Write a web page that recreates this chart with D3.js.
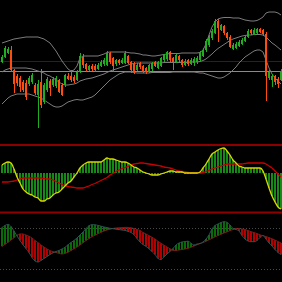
<!DOCTYPE html>
<html><head><meta charset="utf-8">
<script src="https://cdn.jsdelivr.net/npm/d3@7"></script>
<style>html,body{margin:0;padding:0;background:#000;overflow:hidden}</style>
</head><body>
<svg id="c" width="282" height="282"></svg>
<script>
// ---- price candles ----
const open=[78,83,87,90,70,64,62,58,57,56, 58,55,45,58,38,50,59,55,54,60, 55,55,64,64,63,60,68,83,76,70, 74,74,71,74,76,75,87,82,76,80, 77,77,84,78,76,70,77,74,72,68, 71,78,72,74,80,81,88,82,78,84, 80,75,80,76,77,78,80,84,90,95, 102,107,119,110,114,107,103,91,92,94, 96,99,103,110,106,107,111,110,106,62, 60,64,61,60];
const close=[83,92,91,70,56,57,53,50,43,62, 65,47,56,35,55,61,52,61,62,48, 45,65,61,60,59,68,84,75,71,74, 71,70,75,78,80,87,78,74,80,77, 80,87,77,70,68,75,73,68,68,75, 77,74,78,82,85,88,80,78,85,80, 75,79,76,80,81,82,87,90,99,103, 109,119,112,115,107,102,93,95,96,98, 100,103,109,107,110,111,108,106,64,68, 64,58,56,69];
const high=[85,94,93,94,71,66,64,60,60,64, 67,57,60,71,57,63,61,63,64,61, 57,66,67,70,65,70,87,86,77,75, 76,76,77,80,82,89,88,83,81,81, 82,89,85,79,78,77,78,75,73,76, 78,79,79,83,86,89,89,83,86,85, 81,81,81,82,83,84,89,92,101,105, 111,121,121,116,115,108,105,97,98,100, 102,105,111,111,112,112,112,111,108,70, 66,65,63,71];
const low=[77,82,86,68,47,54,48,48,40,54, 56,45,12,32,36,48,44,53,52,47, 44,53,60,58,57,59,67,72,68,69, 69,68,70,73,74,74,76,68,74,75, 76,76,76,67,66,69,71,67,66,67, 69,73,71,73,78,79,78,70,77,78, 73,74,74,75,74,76,79,83,88,93, 100,106,98,109,105,100,92,90,91,93, 95,98,102,105,105,106,107,104,39,60, 53,55,52,59];
// ---- Bollinger bands ----
const bbUpper=[97,98,99,100,101,101.5,102,102.5,103,103, 103,103,103,102,101,99,97,93,89,84, 79,75,71,69,70,74,82,84,84,84, 84,84,84,85,86,87.5,88,88,88,88, 88,88,87.5,87,87,86.5,86,85,85,84.5, 84,84,84.5,85,85.5,86,86.5,86.5,86.5,86.5, 87,87,87,87,87,87,87.5,90,96,105, 113,118,121,122,122.5,122.5,122.5,122,122,122, 121,120,119.5,119,119,119.5,121,123,127,128, 128,128,127,125];
const bbMiddle=[68,70,71,72,72,72,72,72,72,71.5, 71,70,69,68,67,65,64,62,60,58, 56,55,55,55.5,56,57,59,60,61,61.5, 62,63,64,65,66,67.5,69,70,71,72, 73,74,75,76,76.5,77,77,77,77,77, 77,77,77,77,77.5,77.5,77.5,77.5,77.5,77.5, 77.5,77.5,77.5,78,78,78,78.5,79.5,81,83.5, 86,89,91.5,93.5,95.5,97.5,99.5,101,102,103, 104,104.5,105,105,105.5,105.5,105.5,105,103,100, 97,95,92.5,90];
const bbLower=[36,39,42,44,45,46,46,46,46,46, 45,44,43,42,40,38,36,34,33,33, 34,36,38,39,40,40.5,40,40,41,42, 43,45,48,51,54,57,60,62,64,66, 67,68,68,68,67.5,67,67,67,67,67, 67.5,67.5,67.5,67.5,67.5,67.5,67.5,68,68,68, 68,68,68,68,68,67.5,67,67,66,65, 64,63,62,62,63,65,67,70,73,77, 80,83,85,87,89,90,90,88,80,72, 66,62,59,56];
const priceLevels=[79,69];
// ---- MACD ----
const macd=[8,10,11,10,4,-4,-10,-16,-19,-21, -22,-24,-25,-28,-28,-26,-25,-22,-20,-19, -16,-13,-10,-8,-4,0,5,8,10,11, 11,11,11,11,13,15,14,14,13,12, 11,11,10,8,6,5,3,1,0,-1, -2,-2,-2,-1,0,1,2,2,1,1, 1,0,0,0,0,0,1,5,9,14, 19,21,23,24.5,25,22,18,13,10,7, 6,5,5,5,5,5,5,2,-6,-15, -23,-29,-34,-36];
const signal=[-9,-9,-9,-8.5,-8,-7,-6,-5,-5,-5, -5,-5,-5,-5,-5.5,-6,-6,-7,-8.5,-10, -11.5,-12.5,-13.5,-14,-14.5,-15,-15,-15,-14,-13, -11.5,-10.5,-9,-7.5,-6,-4.5,-2,-0.5,1.5,3, 4.5,5.5,6.5,8,9,9.5,10,10,9.5,9, 8.5,8,7.5,7,6,5.5,5,4,3,2, 1.5,1,0.5,0,0,0,0,0.5,1.5,2.5, 4,5,6,7,8,9,9,9,9,9, 9,9.5,10,10,10,10,10,10,9,7, 5,2,-1,-4];
// ---- lower oscillator ----
const fastLine=[20.5,22.5,23.7,21.5,17,12,7.5,3.2,-0.5,-4.5, -9.5,-13,-14,-12.5,-10.5,-8.5,-6.5,-4.8,-3.5,-2.5, -1,0.7,3.2,5.5,7.5,10,13,16,19.5,22.3, 23.3,23.2,22.6,21.8,21,20.4,19.7,19.3,18.8,18.4, 18,17.6,16.7,15.5,13.3,9.5,6,3.5,1.7,-0.8, -3.5,-6.5,-10.5,-11.5,-9,-6,-3.5,-0.5,3,5, 6,6.5,6.8,4.8,3,4,4.5,6,9,13, 19,22.5,24,25.5,26.3,25.7,23,19.5,18.5,17, 12.5,9,7,6.3,6.3,7.5,10.5,12.5,9,5, 2,-1.5,-4.5,-6.5];
const slowLine=[1.7,3.7,5.7,8,10.2,12.8,14,14,13,11.7, 10,7.5,5.3,3,1,-1,-2.7,-3.7,-4.5,-5.3, -6,-5.3,-4.2,-2.5,-0.8,1,3,5.2,7.5,9.5, 11.3,12.8,14.3,15.7,17,18,18.8,19.6,20,20.2, 20.4,20.6,20.6,20.2,19.5,18.5,17.5,15.5,14,12.3, 10.7,9,6.7,4.7,2.8,1,-0.8,-2.3,-2.5,-2, -1.5,-1,-0.3,0.8,2,3.2,4.4,5.5,6.8,8.2, 9.7,11.1,12.5,13.8,15,16.1,17.4,18.5,19.5,19.5, 19,18.5,17.4,16.3,15.4,14.4,13.1,12.3,11.4,10.4, 9.2,7.9,6.4,5];
const oscLevels=[20.5,-20.5];

const N=open.length;
const svg=d3.select("#c");
svg.append("rect").attr("width",282).attr("height",282).attr("fill","#000");
const x=d3.scaleLinear().domain([0,N-1]).range([2,281]);
const yP=d3.scaleLinear().domain([0,140]).range([140,0]);
const yM=d3.scaleLinear().domain([-40,30]).range([213,143]);
const yO=d3.scaleLinear().domain([-34,36]).range([282,212]);
const idx=d3.range(N);
const GREEN="#1fae1f", ORANGE="#ff4d0f";

// top panel
const priceG=svg.append("g");
priceG.selectAll("line.lv").data(priceLevels).join("line")
  .attr("x1",0).attr("x2",282).attr("y1",d=>Math.round(yP(d))+0.5).attr("y2",d=>Math.round(yP(d))+0.5)
  .attr("stroke",(d,i)=>i===0?"#7a0000":"#8a8a8a").attr("stroke-width",1);
const band=d3.line().x((d,i)=>x(i)).y(d=>yP(d));
[bbUpper,bbMiddle,bbLower].forEach(b=>{
  priceG.append("path").attr("d",band(b)).attr("fill","none").attr("stroke","#7c7c7c").attr("stroke-width",1);
});
const cg=priceG.append("g").attr("shape-rendering","crispEdges");
cg.selectAll("rect.w").data(idx).join("rect")
  .attr("x",i=>x(i)).attr("width",1)
  .attr("y",i=>yP(high[i])).attr("height",i=>yP(low[i])-yP(high[i]))
  .attr("fill",i=>close[i]>=open[i]?GREEN:ORANGE);
cg.selectAll("rect.b").data(idx).join("rect")
  .attr("x",i=>x(i)-1).attr("width",2)
  .attr("y",i=>yP(Math.max(open[i],close[i])))
  .attr("height",i=>Math.max(1,Math.abs(yP(open[i])-yP(close[i]))))
  .attr("fill",i=>close[i]>=open[i]?GREEN:ORANGE);

// MACD panel
const mg=svg.append("g");
mg.append("g").attr("shape-rendering","crispEdges").selectAll("rect").data(idx).join("rect")
  .attr("x",i=>x(i)-1).attr("width",2)
  .attr("y",i=>Math.min(yM(0),yM(macd[i]))).attr("height",i=>Math.max(0.5,Math.abs(yM(macd[i])-yM(0))))
  .attr("fill","#168a16");
const ml=d3.line().x((d,i)=>x(i)).y(d=>yM(d)).curve(d3.curveMonotoneX);
mg.append("path").attr("d",ml(signal)).attr("fill","none").attr("stroke","#c80000").attr("stroke-width",1.3);
mg.append("path").attr("d",ml(macd)).attr("fill","none").attr("stroke","#d8d800").attr("stroke-width",1.3);
svg.append("rect").attr("x",0).attr("y",144).attr("width",282).attr("height",2).attr("fill","#8e0000");
svg.append("rect").attr("x",0).attr("y",211.5).attr("width",282).attr("height",2).attr("fill","#8e0000");

// lower oscillator panel
const og=svg.append("g");
og.selectAll("rect").data(idx).join("rect")
  .attr("x",i=>x(i)-0.75).attr("width",1.5)
  .attr("y",i=>yO(Math.max(fastLine[i],slowLine[i])))
  .attr("height",i=>Math.abs(yO(fastLine[i])-yO(slowLine[i])))
  .attr("fill",i=>fastLine[i]>=slowLine[i]?"#0b8f0b":"#ee0000");
const ol=d3.line().x((d,i)=>x(i)).y(d=>yO(d)).curve(d3.curveMonotoneX);
og.append("path").attr("d",ol(slowLine)).attr("fill","none").attr("stroke","#7a1c1c").attr("stroke-width",1);
og.append("path").attr("d",ol(fastLine)).attr("fill","none").attr("stroke","#2c5252").attr("stroke-width",1);
og.selectAll("line.lv").data(oscLevels).join("line")
  .attr("x1",0).attr("x2",282).attr("y1",d=>Math.round(yO(d))+0.5).attr("y2",d=>Math.round(yO(d))+0.5)
  .attr("stroke","#4a4a4a").attr("stroke-width",1).attr("stroke-dasharray","1,2");
</script>
</body></html>
